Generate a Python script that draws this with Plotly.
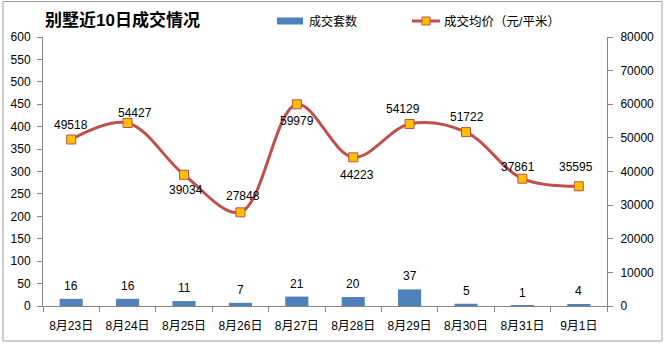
import plotly.graph_objects as go

# ---- data ----
dates = ["8月23日", "8月24日", "8月25日", "8月26日", "8月27日",
         "8月28日", "8月29日", "8月30日", "8月31日", "9月1日"]
deals = [16, 16, 11, 7, 21, 20, 37, 5, 1, 4]
avg_price = [49518, 54427, 39034, 27848, 59979, 44223, 54129, 51722, 37861, 35595]

left_ticks = list(range(0, 601, 50))
right_ticks = list(range(0, 80001, 10000))

# hand-placed offsets (pixels) for the price labels
price_dx = [0, 7, 2, 3, 0, 4, -7, 1, -4, -3]
price_dy = [15, 10, -15, 16, -17, -18, 15, 15, 12, 19]

# ---- layout geometry (pixels) ----
W, H = 666, 346
ML, MR, MT, MB = 43, 59, 37, 40
PW, PH = W - ML - MR, H - MT - MB

def px(x):
    return (x - ML) / PW

def py(y):
    return (H - MB - y) / PH

FONT = "Liberation Sans, Noto Sans CJK SC, sans-serif"
BAR_C = "#4F81BD"
LINE_C = "#C0504D"
MARK_C = "#FFC000"
AXIS_C = "#868686"

fig = go.Figure()

fig.add_trace(go.Bar(
    x=dates, y=deals, name="成交套数",
    marker=dict(color=BAR_C, line=dict(width=0)),
    yaxis="y", showlegend=False,
))

fig.add_trace(go.Scatter(
    x=dates, y=avg_price, name="成交均价（元/平米）",
    mode="lines+markers", yaxis="y2",
    line=dict(color=LINE_C, width=3, shape="spline", smoothing=1),
    marker=dict(symbol="square", size=9, color=MARK_C,
                line=dict(color=LINE_C, width=1)),
    showlegend=False,
))

annotations = []
for d, v in zip(dates, deals):
    annotations.append(dict(x=d, y=v, xref="x", yref="y", text=str(v),
                            showarrow=False, yshift=13,
                            font=dict(family=FONT, size=12, color="#000")))
for d, v, dx, dy in zip(dates, avg_price, price_dx, price_dy):
    annotations.append(dict(x=d, y=v, xref="x", yref="y2", text=str(v),
                            showarrow=False, xshift=dx, yshift=dy,
                            font=dict(family=FONT, size=12, color="#000")))

# title
annotations.append(dict(x=px(122), y=py(20), xref="paper", yref="paper",
                        text="<b>别墅近10日成交情况</b>", showarrow=False,
                        xanchor="center", yanchor="middle",
                        font=dict(family=FONT, size=17, color="#000")))

# legend
annotations.append(dict(x=px(307), y=py(21), xref="paper", yref="paper",
                        text="成交套数", showarrow=False,
                        xanchor="left", yanchor="middle",
                        font=dict(family=FONT, size=12, color="#000")))
annotations.append(dict(x=px(442), y=py(21), xref="paper", yref="paper",
                        text="成交均价（元/平米）", showarrow=False,
                        xanchor="left", yanchor="middle",
                        font=dict(family=FONT, size=12.5, color="#000")))

shapes = [
    # chart frame
    dict(type="rect", xref="paper", yref="paper",
         x0=px(3), x1=px(662), y0=py(341), y1=py(1.5),
         line=dict(color="#A0A0A0", width=1), fillcolor="rgba(0,0,0,0)",
         layer="below"),
    # legend keys
    dict(type="rect", xref="paper", yref="paper",
         x0=px(277), x1=px(303), y0=py(24.5), y1=py(17.5),
         fillcolor=BAR_C, line=dict(width=0)),
    dict(type="line", xref="paper", yref="paper",
         x0=px(412), x1=px(440), y0=py(21), y1=py(21),
         line=dict(color=LINE_C, width=3)),
    dict(type="rect", xref="paper", yref="paper",
         x0=px(422), x1=px(430), y0=py(25), y1=py(17),
         fillcolor=MARK_C, line=dict(color=LINE_C, width=1)),
]

fig.update_layout(
    width=W, height=H,
    margin=dict(l=ML, r=MR, t=MT, b=MB, pad=0),
    paper_bgcolor="white", plot_bgcolor="white",
    font=dict(family=FONT, size=12, color="#000"),
    bargap=0.59,
    showlegend=False,
    annotations=annotations,
    shapes=shapes,
    xaxis=dict(
        type="category", tickson="boundaries",
        showline=True, linecolor=AXIS_C, linewidth=1,
        ticks="outside", ticklen=5, tickcolor=AXIS_C,
        showgrid=False, zeroline=False,
        ticklabelstandoff=9,
        tickfont=dict(family=FONT, size=12, color="#000"),
        range=[-0.5, 9.5],
    ),
    yaxis=dict(
        range=[0, 600], tickvals=left_ticks,
        showline=True, linecolor=AXIS_C, linewidth=1,
        ticks="outside", ticklen=5, tickcolor=AXIS_C,
        showgrid=False, zeroline=False,
        ticklabelstandoff=4,
        tickfont=dict(family=FONT, size=12, color="#000"),
    ),
    yaxis2=dict(
        range=[0, 80000], tickvals=right_ticks,
        ticktext=[str(t) for t in right_ticks],
        overlaying="y", side="right",
        showline=True, linecolor=AXIS_C, linewidth=1,
        ticks="outside", ticklen=5, tickcolor=AXIS_C,
        showgrid=False, zeroline=False,
        ticklabelstandoff=5,
        tickfont=dict(family=FONT, size=12, color="#000"),
    ),
)

fig.write_html("out.html")
